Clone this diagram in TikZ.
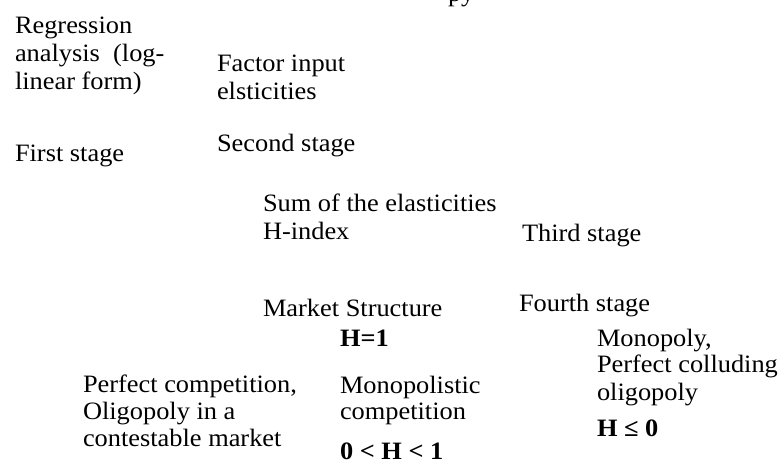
\documentclass[tikz,border=0pt]{standalone}
\usepackage{fontspec}
\setmainfont{Liberation Serif}[FakeStretch=1.055]
\begin{document}
\begin{tikzpicture}[x=1pt,y=-1pt,
  lbl/.style={anchor=base west,inner sep=0pt,outer sep=0pt,font=\fontsize{25}{27.5}\selectfont},
  blbl/.style={lbl,font=\fontsize{25}{27.5}\selectfont\bfseries}]
\useasboundingbox (0,0) rectangle (782,462);
\clip (0,0) rectangle (782,462);
\node[lbl] (top) at (448,2) {py};
\node[lbl] (reg1) at (15,33.5) {Regression};
\node[lbl] (reg2) at (15,61.5) {analysis\ \ (log-};
\node[lbl] (reg3) at (15,89.3) {linear form)};
\node[lbl] (fac1) at (217,71.5) {Factor input};
\node[lbl] (fac2) at (217,99.5) {elsticities};
\node[lbl] (first) at (15,161.5) {First stage};
\node[lbl] (second) at (217,152) {Second stage};
\node[lbl] (sum1) at (263,212) {Sum of the elasticities};
\node[lbl] (sum2) at (263,240) {H-index};
\node[lbl] (third) at (522,242) {Third stage};
\node[lbl] (market) at (263,316.5) {Market Structure};
\node[lbl] (fourth) at (519,312) {Fourth stage};
\node[blbl] (h1) at (340,347) {H=1};
\node[lbl] (mono1) at (597,347) {Monopoly,};
\node[lbl] (mono2) at (597,373) {Perfect colluding};
\node[lbl] (mono3) at (597,400) {oligopoly};
\node[blbl] (hle) at (597,436) {H ≤ 0};
\node[lbl] (pc1) at (83,392) {Perfect competition,};
\node[lbl] (pc2) at (83,419) {Oligopoly in a};
\node[lbl] (pc3) at (83,446) {contestable market};
\node[lbl] (mc1) at (340,393) {Monopolistic};
\node[lbl] (mc2) at (340,419.5) {competition};
\node[blbl] (hmid) at (340,459.5) {0 < H < 1};
\end{tikzpicture}
\end{document}
